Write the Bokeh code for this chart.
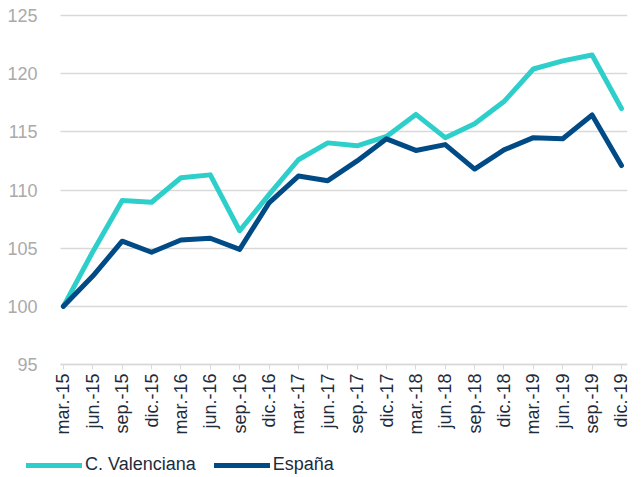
import math
from bokeh.plotting import figure
from bokeh.models import Legend, LegendItem, FixedTicker, Range1d
from bokeh.embed import file_html
from bokeh.resources import INLINE

categories = ["mar.-15", "jun.-15", "sep.-15", "dic.-15",
              "mar.-16", "jun.-16", "sep.-16", "dic.-16",
              "mar.-17", "jun.-17", "sep.-17", "dic.-17",
              "mar.-18", "jun.-18", "sep.-18", "dic.-18",
              "mar.-19", "jun.-19", "sep.-19", "dic.-19"]
valenciana = [100.0, 104.7, 109.1, 108.95, 111.05, 111.3, 106.5, 109.6,
              112.6, 114.05, 113.8, 114.6, 116.5, 114.5, 115.7, 117.6,
              120.4, 121.1, 121.6, 117.0]
espana = [100.0, 102.6, 105.6, 104.65, 105.7, 105.85, 104.9, 108.9,
          111.2, 110.8, 112.5, 114.4, 113.4, 113.9, 111.8, 113.45,
          114.5, 114.4, 116.45, 112.1]
series_names = ["C. Valenciana", "España"]
series_colors = ["#2ECFCB", "#004A85"]
y_ticks = [95, 100, 105, 110, 115, 120, 125]

FONT = "Liberation Sans"
x = list(range(len(categories)))

# plot area (in data units): x from X0 to X1, y from 95 to 125
X0, X1 = -0.1, 19.19
PX_X = 29.37          # pixels per category
PX_Y = 349 / 30.0     # pixels per index point
W, H = 641, 477
LEFT, RIGHT, TOP = 60, 14, 15
x_start = X0 - LEFT / PX_X
x_end = x_start + (W - RIGHT) / PX_X
y_end = 125 + TOP / PX_Y
y_start = y_end - H / PX_Y

p = figure(width=W, height=H, output_backend="svg", toolbar_location=None,
           x_range=Range1d(x_start, x_end), y_range=Range1d(y_start, y_end),
           min_border_left=0, min_border_right=RIGHT, min_border_top=0,
           min_border_bottom=0)
p.outline_line_color = None
p.background_fill_color = "white"
p.border_fill_color = "white"

renderers = []
for vals, col in zip([valenciana, espana], series_colors):
    r = p.line(x, vals, line_color=col, line_width=5,
               line_join="round", line_cap="round")
    renderers.append(r)

p.xgrid.grid_line_color = None
p.ygrid.grid_line_color = "#d9d9d9"
p.ygrid.grid_line_width = 1.5
p.ygrid.ticker = FixedTicker(ticks=y_ticks)
try:
    p.ygrid.cross_bounds = (X0, X1)
except Exception:
    pass

p.yaxis.fixed_location = X0
p.yaxis.ticker = FixedTicker(ticks=y_ticks)
p.yaxis.bounds = (95, 125)
p.yaxis.axis_line_color = None
p.yaxis.major_tick_line_color = None
p.yaxis.minor_tick_line_color = None
p.yaxis.major_label_text_color = "#aaaaaa"
p.yaxis.major_label_text_font = FONT
p.yaxis.major_label_text_font_size = "18px"
p.yaxis.major_label_standoff = 17

p.xaxis.fixed_location = 95
p.xaxis.bounds = (X0, X1)
p.xaxis.ticker = FixedTicker(ticks=x)
p.xaxis.major_label_overrides = {i: c for i, c in enumerate(categories)}
p.xaxis.major_label_orientation = math.pi / 2
p.xaxis.axis_line_color = "#d9d9d9"
p.xaxis.axis_line_width = 1.5
p.xaxis.major_tick_line_color = "#d9d9d9"
p.xaxis.major_tick_out = 5
p.xaxis.major_tick_in = 0
p.xaxis.minor_tick_line_color = None
p.xaxis.major_label_text_color = "#1e2b3c"
p.xaxis.major_label_text_font = FONT
p.xaxis.major_label_text_font_size = "18px"
p.xaxis.major_label_standoff = 4

items = [LegendItem(label=n, renderers=[r]) for n, r in zip(series_names, renderers)]
legend = Legend(items=items, orientation="horizontal", location=(26, 2),
                padding=0, margin=0, spacing=18, glyph_width=56,
                glyph_height=16, label_height=16, label_standoff=3,
                label_text_font=FONT, label_text_font_size="18px",
                label_text_color="#1e2b3c", background_fill_alpha=0,
                border_line_color=None)
p.add_layout(legend, "center")

open("out.html", "w").write(file_html(p, INLINE))
